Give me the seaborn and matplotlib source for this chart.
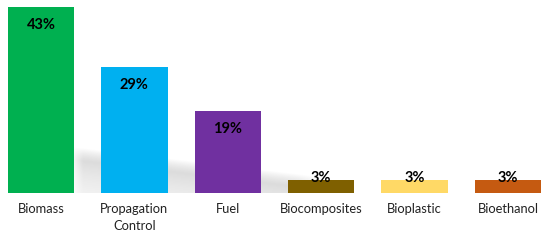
import numpy as np
import pandas as pd
import matplotlib
matplotlib.use("Agg")
import matplotlib.pyplot as plt
import seaborn as sns

categories = ["Biomass", "Propagation\nControl", "Fuel", "Biocomposites", "Bioplastic", "Bioethanol"]
values = [43, 29, 19, 3, 3, 3]
labels = ["43%", "29%", "19%", "3%", "3%", "3%"]
colors = ["#00B050", "#00B0F0", "#7030A0", "#7F6000", "#FFD966", "#C55A11"]

sns.set_theme(style="white")
plt.rcParams["font.family"] = ["Lato", "DejaVu Sans"]

fig = plt.figure(figsize=(5.5, 2.42), dpi=100)
ax = fig.add_axes([0, 49 / 242, 1, 190.5 / 242])

df = pd.DataFrame({"cat": categories, "val": values})
sns.barplot(data=df, x="cat", y="val", hue="cat", palette=colors, legend=False,
            width=0.71, saturation=1, linewidth=0, ax=ax, zorder=3)

# soft shadow behind the bars
nx, ny = 400, 200
xs = np.linspace(0.3, 3.2, nx)
ys = np.linspace(0, 12, ny)
X, Y = np.meshgrid(xs, ys)
top = 10.5 - 2.6 * (X - 0.4)
d = (top - Y)
prof = np.clip(d / 3.0, 0, 1) * np.exp(-np.clip(d, 0, None) / 8.0)
prof = np.where(d < 0, 0, prof)
fade = np.clip((3.15 - X) / 0.4, 0, 1) * np.clip((X - 0.3) / 0.15, 0, 1)
alpha = prof * fade * 0.45
img = np.zeros((ny, nx, 4))
img[..., 0] = 0.55
img[..., 1] = 0.55
img[..., 2] = 0.55
img[..., 3] = alpha
ax.imshow(img, extent=[0.3, 3.2, 0, 12], origin="lower", aspect="auto",
          zorder=1, interpolation="bilinear")
ax.set_xlim(-0.439, 5.45)
ax.set_ylim(0, 44)

for i, (v, lab) in enumerate(zip(values, labels)):
    off = -18 if v > 5 else 2.5
    ax.annotate(lab, (i, v), xytext=(0, off), textcoords="offset pixels",
                ha="center", va="center", fontsize=10.5, fontweight="bold",
                color="black", zorder=5)

ax.set_xlabel("")
ax.set_ylabel("")
ax.set_yticks([])
ax.tick_params(axis="x", length=0, pad=7, labelsize=9.3, colors="#222222")
for t in ax.get_xticklabels():
    t.set_linespacing(1.55)
for s in ax.spines.values():
    s.set_visible(False)

fig.savefig("out.png", dpi=100)
